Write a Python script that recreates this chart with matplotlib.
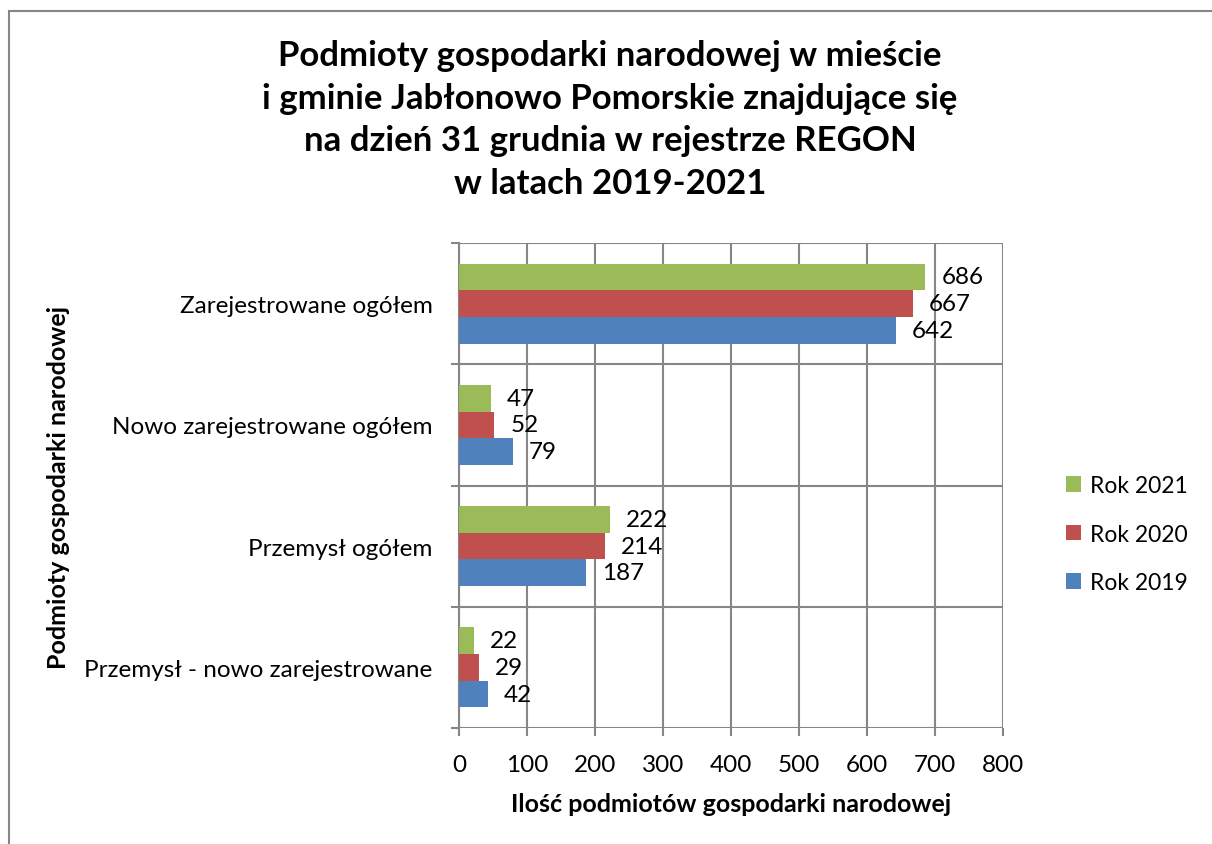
import matplotlib.pyplot as plt
from matplotlib.patches import Rectangle
import numpy as np

plt.rcParams['font.family'] = ['Lato', 'DejaVu Sans']

# dane
categories = ["Zarejestrowane ogółem", "Nowo zarejestrowane ogółem",
              "Przemysł ogółem", "Przemysł - nowo zarejestrowane"]
rok_2019 = [642, 79, 187, 42]
rok_2020 = [667, 52, 214, 29]
rok_2021 = [686, 47, 222, 22]
series_names = ["Rok 2021", "Rok 2020", "Rok 2019"]
colors = ["#9BBB59", "#C0504D", "#4F81BD"]
x_ticks = [0, 100, 200, 300, 400, 500, 600, 700, 800]

W, H = 1212, 845
fig = plt.figure(figsize=(W / 100, H / 100), dpi=100)

# ramka wykresu
fig.patches.append(Rectangle((9 / W, -0.1), 1.2, 1 - 12 / H + 0.1,
                             transform=fig.transFigure, fill=False,
                             edgecolor="#868686", linewidth=1.5))

ax = fig.add_axes([459 / W, 1 - 729 / H, 544 / W, 485 / H])

ypos = np.arange(len(categories))[::-1]  # pierwsza kategoria na górze
h = 0.22
offsets = [h, 0, -h]
data = [rok_2021, rok_2020, rok_2019]
for vals, off, col, name in zip(data, offsets, colors, series_names):
    bars = ax.barh(ypos + off, vals, height=h, color=col, label=name, zorder=3)
    for b, v in zip(bars, vals):
        ax.annotate(str(v), (v, b.get_y() + h / 2), xytext=(16, 0),
                    textcoords="offset pixels", va="center", ha="left",
                    fontsize=17.5, zorder=4)

ax.set_xlim(0, 800)
ax.set_ylim(-0.5, len(categories) - 0.5)
ax.set_xticks(x_ticks)
ax.tick_params(axis="x", labelsize=17.5, length=6, width=1.5, color="#868686", pad=13)

ax.set_yticks(np.arange(-0.5, len(categories), 1))
ax.set_yticklabels([])
ax.set_yticks(ypos, minor=True)
ax.set_yticklabels(categories, minor=True, fontsize=17.5)
ax.tick_params(axis="y", which="major", length=6, width=1.5, color="#868686")
ax.tick_params(axis="y", which="minor", length=0, pad=19)

ax.grid(True, color="#868686", linewidth=1.5, zorder=0)
for s in ax.spines.values():
    s.set_visible(False)
ax.spines["left"].set_visible(True)
ax.spines["left"].set_color("#868686")
ax.spines["left"].set_linewidth(1.5)

ax.set_xlabel("Ilość podmiotów gospodarki narodowej", fontsize=18,
              fontweight="bold", labelpad=12)
fig.text(58 / W, 1 - 487 / H, "Podmioty gospodarki narodowej", rotation=90,
         ha="center", va="center", fontsize=18, fontweight="bold")

fig.text(610 / W, 1 - 120 / H,
         "Podmioty gospodarki narodowej w mieście\n"
         "i gminie Jabłonowo Pomorskie znajdujące się\n"
         "na dzień 31 grudnia w rejestrze REGON\n"
         "w latach 2019-2021",
         ha="center", va="center", fontsize=25, fontweight="bold",
         linespacing=1.42)

ax.legend(loc="center left", bbox_to_anchor=(1057 / W, 1 - 535 / H),
          bbox_transform=fig.transFigure, frameon=False, fontsize=16.5,
          handlelength=0.65, handleheight=0.65, handletextpad=0.4,
          labelspacing=1.2, borderaxespad=0)

fig.savefig("out.png", dpi=100, facecolor="white")
